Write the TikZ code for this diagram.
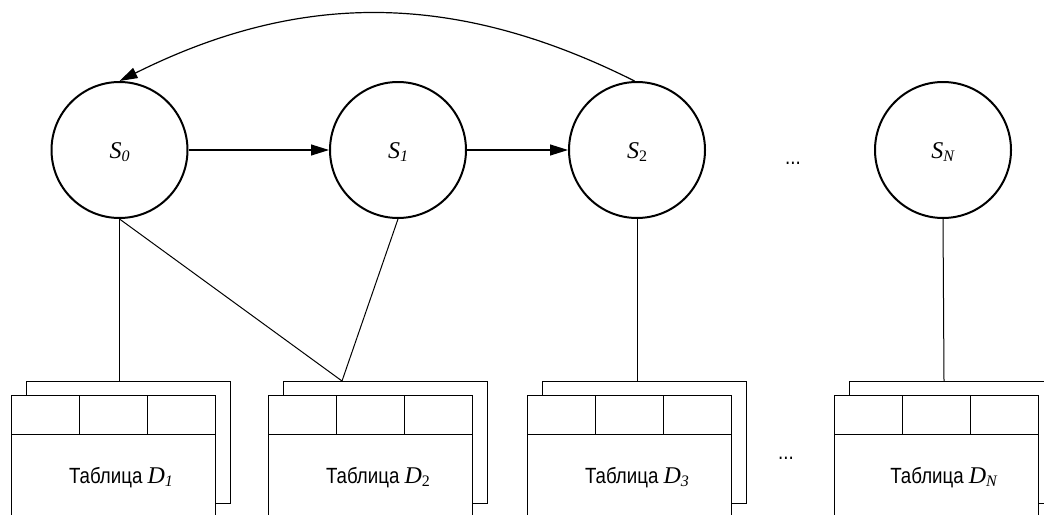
\documentclass[tikz,border=0pt]{standalone}
\usepackage{fontspec}
\setmainfont{Liberation Serif}
\newfontfamily\sansf[FakeStretch=0.85]{Liberation Sans}
\usetikzlibrary{arrows.meta}
\newcommand\subi[1]{\raisebox{-0.14em}{\fontsize{16}{16}\selectfont #1}}
\begin{document}
\begin{tikzpicture}[x=1pt,y=-1pt,
  state/.style={circle,draw,line width=2pt,minimum size=136pt,inner sep=0pt,font=\fontsize{24}{28}\selectfont,text height=17pt,text depth=0pt},
  backbox/.style={draw,fill=white,line width=1pt,minimum width=204pt,minimum height=122pt,inner sep=0pt,anchor=north west},
  frontbox/.style={draw,fill=white,line width=1pt,minimum width=204pt,minimum height=130pt,inner sep=0pt,anchor=north west},
  link/.style={line width=1pt},
  arr/.style={line width=1.2pt,-{Triangle[length=18pt,width=11pt]}},
  lbl/.style={font=\fontsize{24}{28}\selectfont},
  dotsl/.style={font=\sansf\fontsize{22}{26}\selectfont,anchor=base}]
\clip (0,0) rectangle (1044,514);
% states
\node[state] (s0) at (119.5,150) {\textit{S}\subi{\textit{0}}};
\node[state] (s1) at (398,150) {\textit{S}\subi{\textit{1}}};
\node[state] (s2) at (637,150) {\textit{S}\subi{2}};
\node[state] (sN) at (943,150) {\textit{S}\subi{\textit{N}}};
\node[dotsl] (dotsA) at (793,164) {...};
% arrows
\draw[arr] (s0) -- (s1);
\draw[arr] (s1) -- (s2);
\draw[arr] (s2.92) .. controls (455,-9) and (300,-9) .. (s0.north);
% tables
\foreach \i/\x/\sb in {1/11/{\textit{1}},2/268/{2},3/527/{\textit{3}},N/834/{\textit{N}}} {
  \node[backbox] (tb\i) at (\x+14.5,381) {};
  \node[frontbox] (tf\i) at (\x,395) {};
  \draw[link] (tf\i.north west) ++(0,39) -- ++(204,0);
  \draw[link] ([xshift=68pt]tf\i.north west) -- ++(0,39);
  \draw[link] ([xshift=136pt]tf\i.north west) -- ++(0,39);
  \node[lbl,anchor=base] (lab\i) at (\x+110,483) {{\sansf\fontsize{22}{26}\selectfont Таблица }\textit{D}\subi{\sb}};
}
\node[dotsl] (dotsB) at (786,459) {...};
% connectors
\coordinate (top1) at (119.5,381);
\coordinate (top2) at (342,381);
\coordinate (top3) at (637,381);
\coordinate (topN) at (944,381);
\draw[link] (s0.south) -- (top1);
\draw[link] (s0.south) -- (top2);
\draw[link] (s1.south) -- (top2);
\draw[link] (s2.south) -- (top3);
\draw[link] (sN.south) -- (topN);
\end{tikzpicture}
\end{document}
